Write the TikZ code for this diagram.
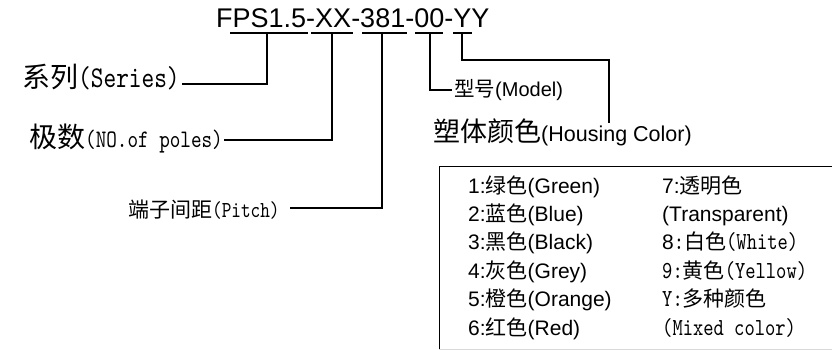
\documentclass[tikz,border=0pt]{standalone}
\usepackage{fontspec}
\setmainfont{Liberation Sans}
\newfontfamily\cjk{Noto Sans CJK SC}
\newfontfamily\mono[FakeStretch=0.8]{lmmono10-regular.otf}
\newcommand{\zh}[2]{{\cjk\fontsize{#1}{#1}\selectfont #2}}
\newcommand{\mn}[2]{{\mono\fontsize{#1}{#1}\selectfont #2}}
\newcommand{\ar}[2]{{\fontsize{#1}{#1}\selectfont #2}}

\begin{document}
\begin{tikzpicture}[x=1pt, y=-1pt,
    lead/.style={line width=1.6pt},
    lab/.style={inner sep=0pt, anchor=base west}]
  \useasboundingbox (0,0) rectangle (832,350);

  % part number and its underlines
  \node[lab] (title) at (216,28) {\ar{27}{FPS1.5-XX-381-00-YY}};
  \foreach \a/\b/\m/\nm in {230/308/267/ser, 311/353/332/pol,
      362/407/382/pit, 415/443/430/mod, 453/472/462/hou} {
    \draw[lead] (\a,33) -- (\b,33);
    \coordinate (\nm) at (\m,33);
  }

  % labels
  \node[lab] (series) at (22,88) {\zh{28}{系列}\mn{30.2}{(Series)}};
  \node[lab] (poles) at (29,147) {\zh{28}{极数}\mn{25.2}{(NO.of poles)}};
  \node[lab] (pitch) at (128,217) {\zh{21}{端子间距}\mn{22.9}{(Pitch)}};
  \node[lab] (model) at (454,97) {\zh{20.5}{型号}\ar{20}{(Model)}};
  \node[lab] (housing) at (433,141) {\zh{27}{塑体颜色}\ar{21.5}{(Housing Color)}};

  \draw[lead] (ser) |- ([xshift=2pt,yshift=4pt]series.base east);
  \draw[lead] (pol) |- ([xshift=1pt,yshift=7pt]poles.base east);
  \draw[lead] (pit) |- ([xshift=10pt,yshift=9pt]pitch.base east);
  \draw[lead] (mod) |- ([xshift=-2pt,yshift=7pt]model.base west);
  \coordinate (hbend) at (609,60);
  \draw[lead] (hou) |- (hbend) -- ([yshift=18pt]hbend |- housing.base);

  % colour table
  \coordinate (bx) at (439,166);
  \draw[line width=1pt] (439,349) -- (bx) -- (832,166);
  \draw[black!15] (439,349) -- (832,349);
  \foreach \d/\cn/\en [count=\r from 0] in {1/绿色/Green, 2/蓝色/Blue,
      3/黑色/Black, 4/灰色/Grey, 5/橙色/Orange, 6/红色/Red}
    \node[lab] (c\d) at (468,{193+28.4*\r}) {\ar{21}{\d:}\zh{21}{\cn}\ar{21}{(\en)}};
  \node[lab] (c7) at (662,193) {\ar{21}{7:}\zh{21}{透明色}};
  \node[lab] (c7b) at (662,221.4) {\ar{21}{(Transparent)}};
  \node[lab] (c8) at (662,249.8) {\ar{21}{8}\mn{24.5}{:}\zh{21}{白色}\mn{24.5}{(White)}};
  \node[lab] (c9) at (662,278.2) {\mn{24.5}{9:}\zh{21}{黄色}\mn{24.5}{(Yellow)}};
  \node[lab] (cy) at (662,306.6) {\mn{24.5}{Y:}\zh{21}{多种颜色}};
  \node[lab] (cyb) at (662,335) {\mn{24.5}{(Mixed color)}};
\end{tikzpicture}
\end{document}
